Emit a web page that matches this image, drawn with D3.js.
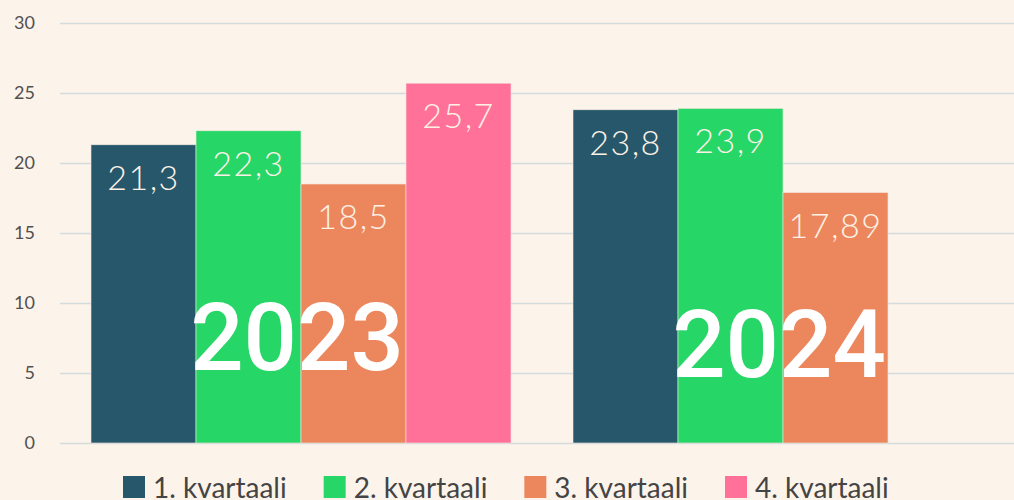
<!DOCTYPE html>
<html>
<head>
<meta charset="utf-8">
<script src="https://cdn.jsdelivr.net/npm/d3@7"></script>
<style>
  html, body { margin: 0; padding: 0; background: #fcf3ea; }
  svg { display: block; }
</style>
</head>
<body>
<div id="chart"></div>
<script>
'use strict';

const years = ['2023', '2024'];
const quarters = ['1. kvartaali', '2. kvartaali', '3. kvartaali', '4. kvartaali'];
const values2023 = [21.3, 22.3, 18.5, 25.7];
const values2024 = [23.8, 23.9, 17.89, null];
const valueLabels2023 = ['21,3', '22,3', '18,5', '25,7'];
const valueLabels2024 = ['23,8', '23,9', '17,89', ''];
const yTicks = [0, 5, 10, 15, 20, 25, 30];
const colors = ['#26576b', '#26d667', '#ec875d', '#ff7199'];

const width = 1014;
const height = 500;
const margin = { top: 23, right: 0, bottom: 57, left: 60 };

const rows = [];
years.forEach((year, yi) => {
  const vals = yi === 0 ? values2023 : values2024;
  const labs = yi === 0 ? valueLabels2023 : valueLabels2024;
  quarters.forEach((q, qi) => {
    if (vals[qi] != null) rows.push({ year, q, qi, value: vals[qi], label: labs[qi] });
  });
});

const svg = d3.select('#chart')
  .append('svg')
  .attr('width', width)
  .attr('height', height);

svg.append('rect')
  .attr('width', width)
  .attr('height', height)
  .attr('fill', '#fcf3ea');

const x0 = d3.scaleBand(years, [91, 993])
  .paddingInner(62 / 482)
  .paddingOuter(0);

const x1 = d3.scaleBand(quarters, [0, x0.bandwidth()]);

const y = d3.scaleLinear([0, 30], [height - margin.bottom, margin.top]);

// grid + y labels
const yAxis = d3.axisLeft(y)
  .tickValues(yTicks)
  .tickSize(-(width - margin.left - margin.right))
  .tickPadding(25);

svg.append('g')
  .attr('transform', `translate(${margin.left},0)`)
  .call(yAxis)
  .call((g) => g.select('.domain').remove())
  .call((g) => g.selectAll('.tick line')
    .attr('stroke', '#d3dbdc')
    .attr('stroke-width', 1.5))
  .call((g) => g.selectAll('.tick text')
    .attr('fill', '#505050')
    .style('font-family', 'Lato, "Open Sans", sans-serif')
    .style('font-size', '18px'));

// bars
const groups = svg.append('g')
  .selectAll('g')
  .data(rows)
  .join('g')
  .attr('transform', (d) => `translate(${x0(d.year) + x1(d.q)},0)`);

groups.append('rect')
  .attr('y', (d) => y(d.value))
  .attr('width', x1.bandwidth())
  .attr('height', (d) => y(0) - y(d.value))
  .attr('fill', (d) => colors[d.qi])
  .attr('stroke', '#f3e6dc')
  .attr('stroke-width', 0.6);

groups.append('text')
  .attr('x', x1.bandwidth() / 2)
  .attr('y', (d) => y(d.value) + 45)
  .attr('text-anchor', 'middle')
  .attr('fill', '#fdf1e6')
  .style('font-family', 'Lato, "Open Sans", sans-serif')
  .style('font-weight', 300)
  .style('font-size', '34px')
  .style('letter-spacing', '1.5px')
  .text((d) => d.label);

// year labels
const yearLabelPos = [5.2, 4.7];
svg.append('g')
  .selectAll('text')
  .data(years)
  .join('text')
  .attr('x', (d) => x0(d) + x0.bandwidth() / 2 - 4)
  .attr('y', (d, i) => y(yearLabelPos[i]))
  .attr('text-anchor', 'middle')
  .attr('fill', '#ffffff')
  .style('font-family', 'Roboto, "Liberation Sans", sans-serif')
  .style('font-weight', 500)
  .style('font-size', '94px')
  .text((d) => d);

// legend
const legendX = d3.scalePoint(quarters, [123, 725]);
const legend = svg.append('g')
  .selectAll('g')
  .data(quarters)
  .join('g')
  .attr('transform', (d) => `translate(${legendX(d)},476)`);

legend.append('rect')
  .attr('width', 22)
  .attr('height', 22)
  .attr('fill', (d, i) => colors[i]);

legend.append('text')
  .attr('x', 30)
  .attr('y', 22)
  .attr('fill', '#444')
  .style('font-family', 'Lato, "Open Sans", sans-serif')
  .style('font-size', '28px')
  .text((d) => d);
</script>
</body>
</html>
